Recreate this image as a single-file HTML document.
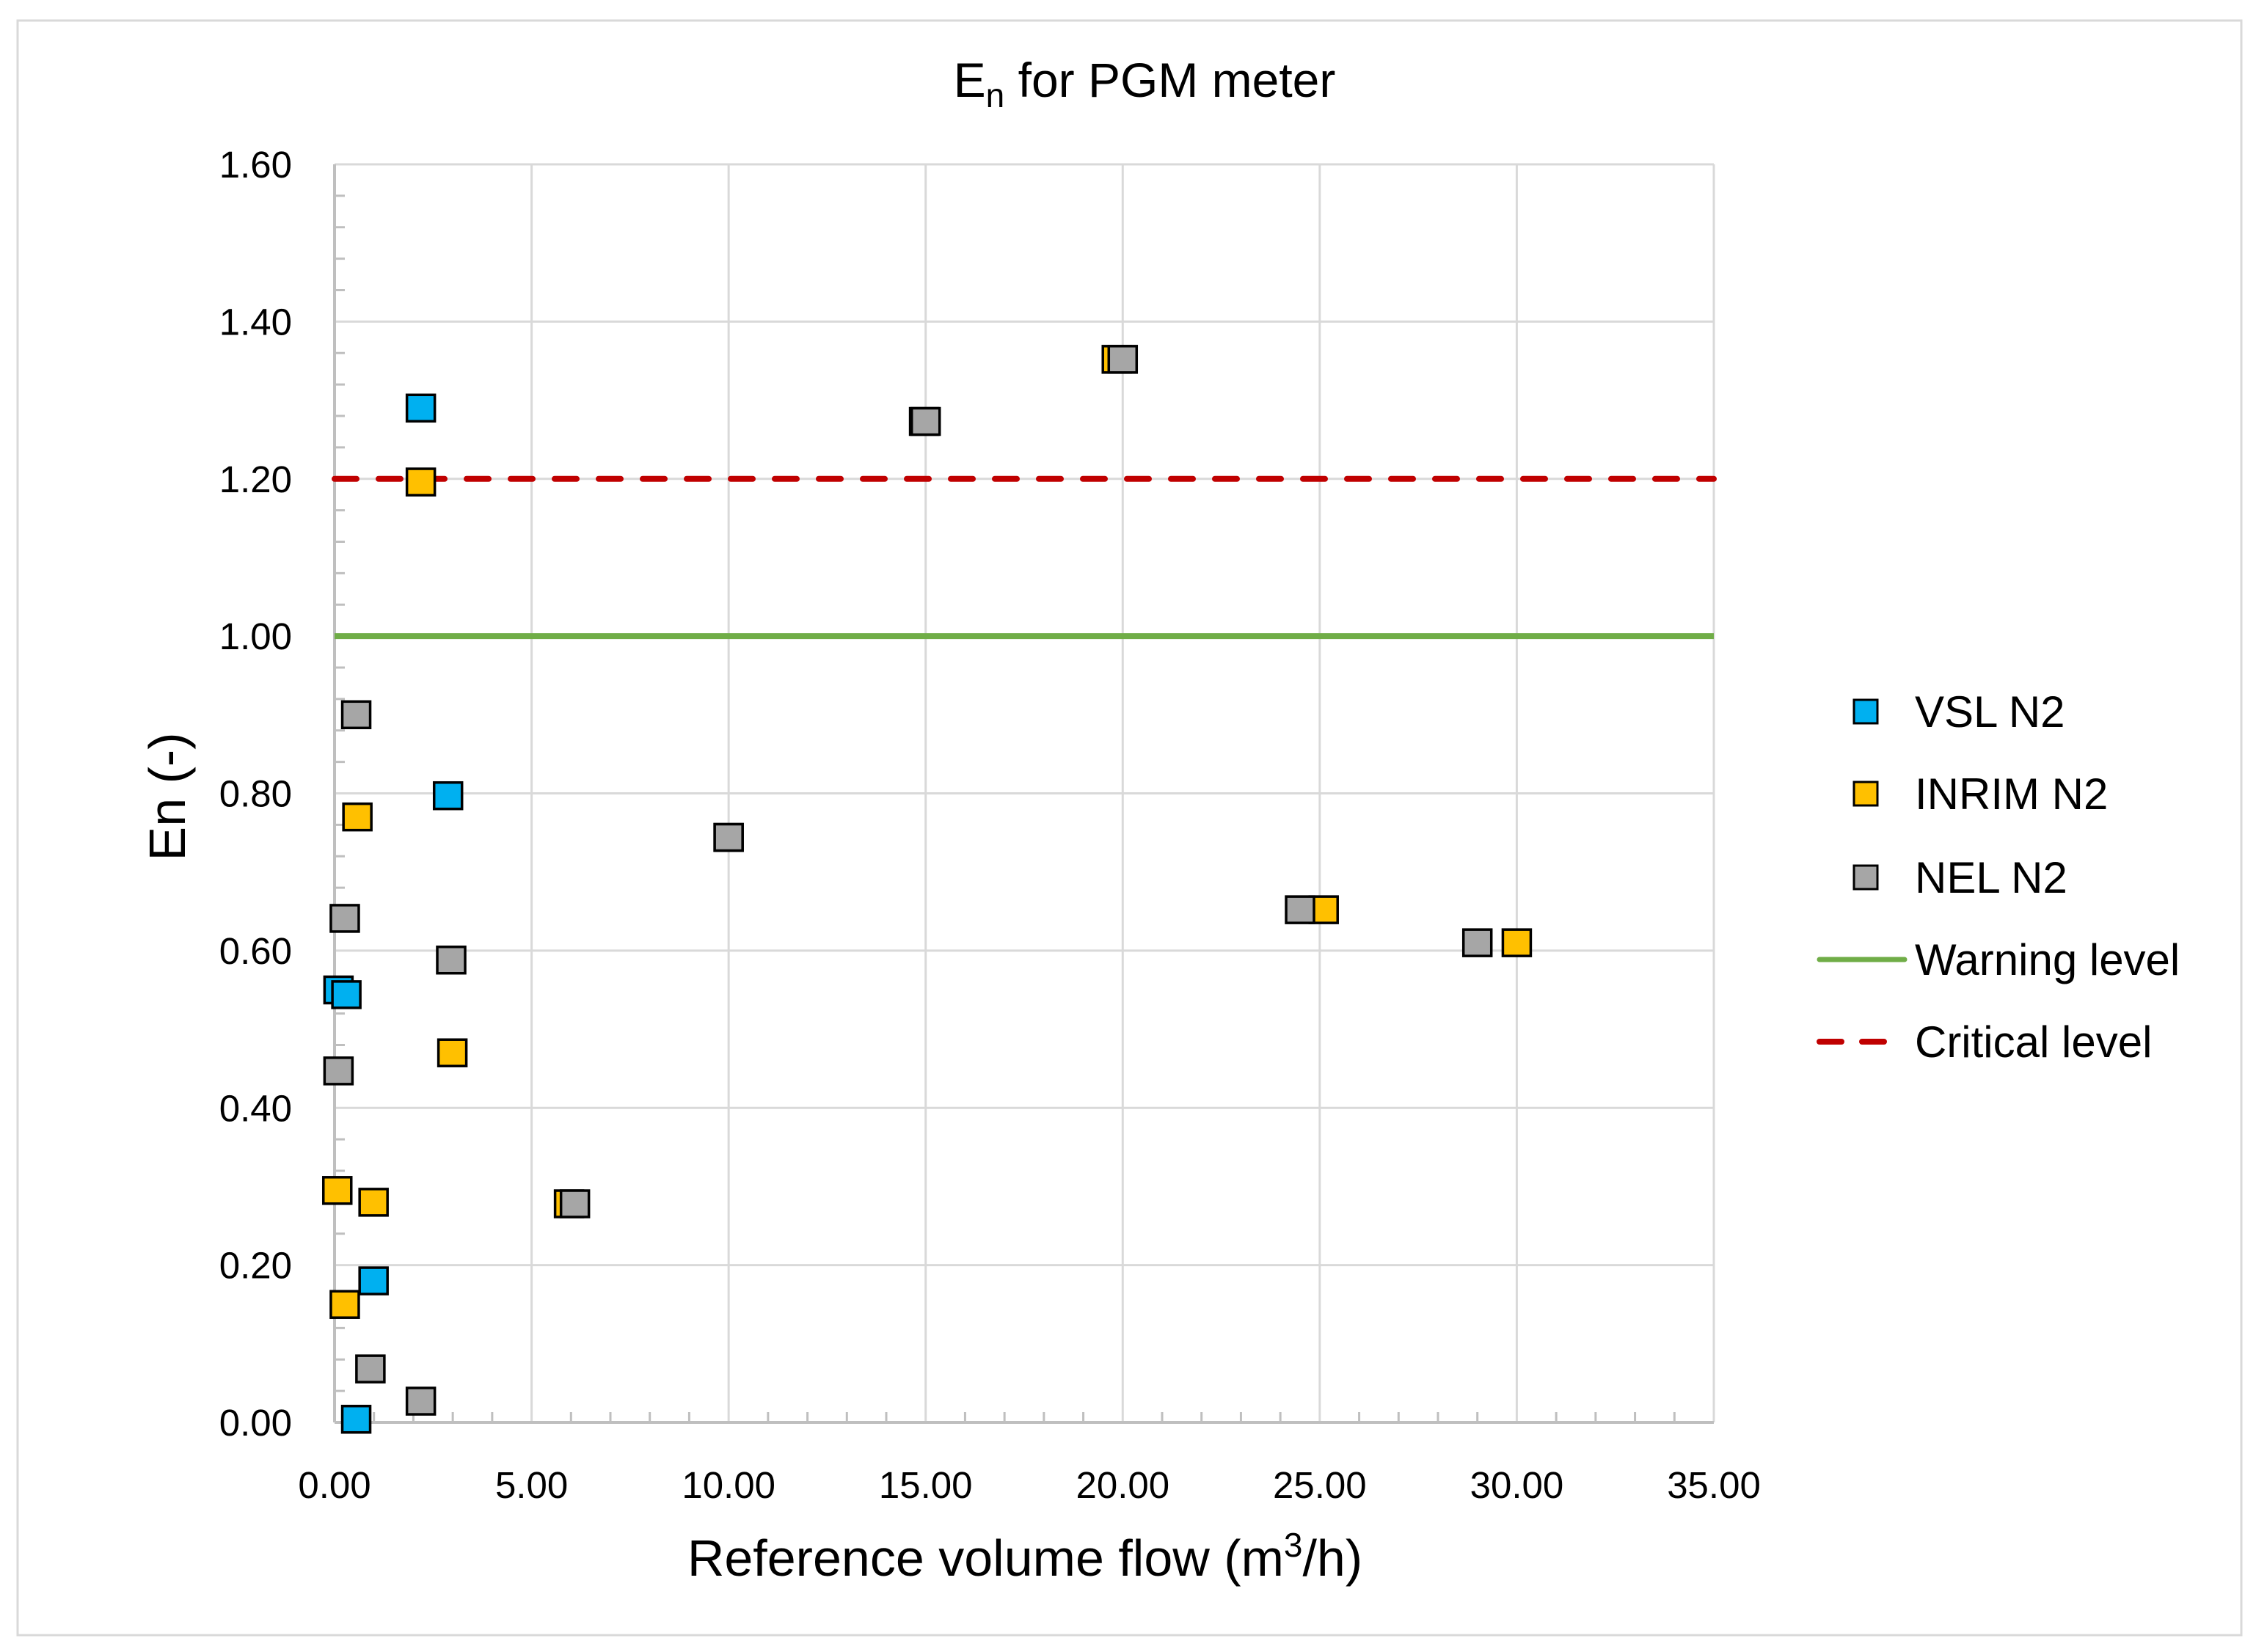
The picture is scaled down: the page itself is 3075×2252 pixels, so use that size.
<!DOCTYPE html>
<html><head><meta charset="utf-8">
<style>
html,body{margin:0;padding:0;background:#fff;}
svg{display:block;font-family:"Liberation Sans",sans-serif;}
</style></head>
<body>
<svg id="chart" width="3075" height="2252" viewBox="0 0 3075 2252" xmlns="http://www.w3.org/2000/svg">
<rect x="24" y="28" width="3031" height="2201" fill="#fff" stroke="#d9d9d9" stroke-width="3"/>
<g id="grid"></g>
<g id="axes"></g>
<g id="refs"></g>
<g id="marks"></g>
<text x="1560" y="132" text-anchor="middle" font-size="66" fill="#000">E<tspan font-size="46" dy="14">n</tspan><tspan dy="-14"> for PGM meter</tspan></text>
<text x="1397" y="2148" text-anchor="middle" font-size="70" fill="#000">Reference volume flow (m<tspan font-size="46" dy="-26">3</tspan><tspan dy="26">/h)</tspan></text>
<text transform="translate(252,1086) rotate(-90)" text-anchor="middle" font-size="70" fill="#000">En (-)</text>
<g id="legend"></g>
</svg>
<script>
const xTicks = [0,5,10,15,20,25,30,35];
const yTicks = [0,0.2,0.4,0.6,0.8,1.0,1.2,1.4,1.6];
const vslX = [2.19,2.88,0.10,0.30,0.99,0.55];
const vslY = [1.29,0.797,0.55,0.544,0.18,0.004];
const inrimX = [2.19,0.58,2.99,0.07,0.99,0.26,5.95,14.96,19.85,25.1,30.0,10.0];
const inrimY = [1.196,0.77,0.47,0.295,0.28,0.15,0.278,1.273,1.352,0.652,0.61,0.744];
const nelX = [0.55,0.26,2.96,0.10,6.1,0.91,2.19,10.0,15.0,20.0,24.5,29.0];
const nelY = [0.90,0.641,0.588,0.447,0.278,0.068,0.027,0.744,1.273,1.352,0.652,0.61];
const warningLevel = 1.0;
const criticalLevel = 1.2;
const seriesNames = ["VSL N2","INRIM N2","NEL N2","Warning level","Critical level"];

const NS="http://www.w3.org/2000/svg";
const X0=456,X1=2336,Y0=1939,Y1=224;
function sx(v){return X0+(v-0)/(35-0)*(X1-X0);}
function sy(v){return Y0-(v-0)/(1.6-0)*(Y0-Y1);}
function mk(tag,attrs,parent){const e=document.createElementNS(NS,tag);for(const k in attrs)e.setAttribute(k,attrs[k]);parent.appendChild(e);return e;}
const grid=document.getElementById('grid'),axes=document.getElementById('axes'),refs=document.getElementById('refs'),marks=document.getElementById('marks'),legend=document.getElementById('legend');

xTicks.forEach(t=>{
  if(t>0){const l=mk('line',{x1:sx(t),x2:sx(t),y1:Y1,y2:Y0,stroke:'#d9d9d9','stroke-width':3},grid);
  
  }
  const tx=mk('text',{x:sx(t),y:2042,'text-anchor':'middle','font-size':51,fill:'#000'},axes);
  tx.textContent=t.toFixed(2);
  
  
});
yTicks.forEach(t=>{
  if(t>0){const l=mk('line',{x1:X0,x2:X1,y1:sy(t),y2:sy(t),stroke:'#d9d9d9','stroke-width':3},grid);
  
  }
  const tx=mk('text',{x:398,y:sy(t)+18,'text-anchor':'end','font-size':51,fill:'#000'},axes);
  tx.textContent=t.toFixed(2);
  
  
});
for(let i=1;i<35;i++){ if(i%5===0)continue;
  mk('line',{x1:sx(i),x2:sx(i),y1:Y0,y2:Y0-14,stroke:'#bfbfbf','stroke-width':3},axes);}
for(let i=1;i<40;i++){ if(i%5===0)continue;
  mk('line',{x1:X0,x2:X0+14,y1:sy(i*0.04),y2:sy(i*0.04),stroke:'#bfbfbf','stroke-width':3},axes);}
const xa=mk('line',{x1:X0,x2:X1,y1:Y0,y2:Y0,stroke:'#bfbfbf','stroke-width':4},axes);


const ya=mk('line',{x1:X0,x2:X0,y1:Y1,y2:Y0,stroke:'#bfbfbf','stroke-width':4},axes);



const wl=mk('line',{x1:X0,x2:X1,y1:sy(warningLevel),y2:sy(warningLevel),stroke:'#70AD47','stroke-width':8},refs);


const cl=mk('line',{x1:X0,x2:X1,y1:sy(criticalLevel),y2:sy(criticalLevel),stroke:'#C00000','stroke-width':8,'stroke-dasharray':'30 30','stroke-linecap':'round'},refs);



function drawSeries(xs,ys,fill,name){
  xs.forEach((x,i)=>{
    const r=mk('rect',{x:sx(x)-19,y:sy(ys[i])-18,width:38,height:36,fill:fill,stroke:'#000','stroke-width':3.5},marks);
    
    
  });
}
drawSeries(vslX,vslY,'#00B0F0','vsl-point');
drawSeries(inrimX,inrimY,'#FFC000','inrim-point');
drawSeries(nelX,nelY,'#A6A6A6','nel-point');

const legY=[970,1082,1196,1308,1420];
const legFill=['#00B0F0','#FFC000','#A6A6A6'];
seriesNames.forEach((n,i)=>{
  const y=legY[i];
  if(i<3){const r=mk('rect',{x:2527,y:y-16,width:32,height:32,fill:legFill[i],stroke:'#000','stroke-width':3},legend);
    
    }
  else if(i===3){mk('line',{x1:2480,x2:2596,y1:y,y2:y,stroke:'#70AD47','stroke-width':7,'stroke-linecap':'round'},legend);}
  else {mk('line',{x1:2480,x2:2596,y1:y,y2:y,stroke:'#C00000','stroke-width':8,'stroke-dasharray':'30 28','stroke-linecap':'round'},legend);}
  const t=mk('text',{x:2610,y:y+21,'font-size':60,fill:'#000'},legend);
  t.textContent=n;
  
  
});
</script>
</body></html>
